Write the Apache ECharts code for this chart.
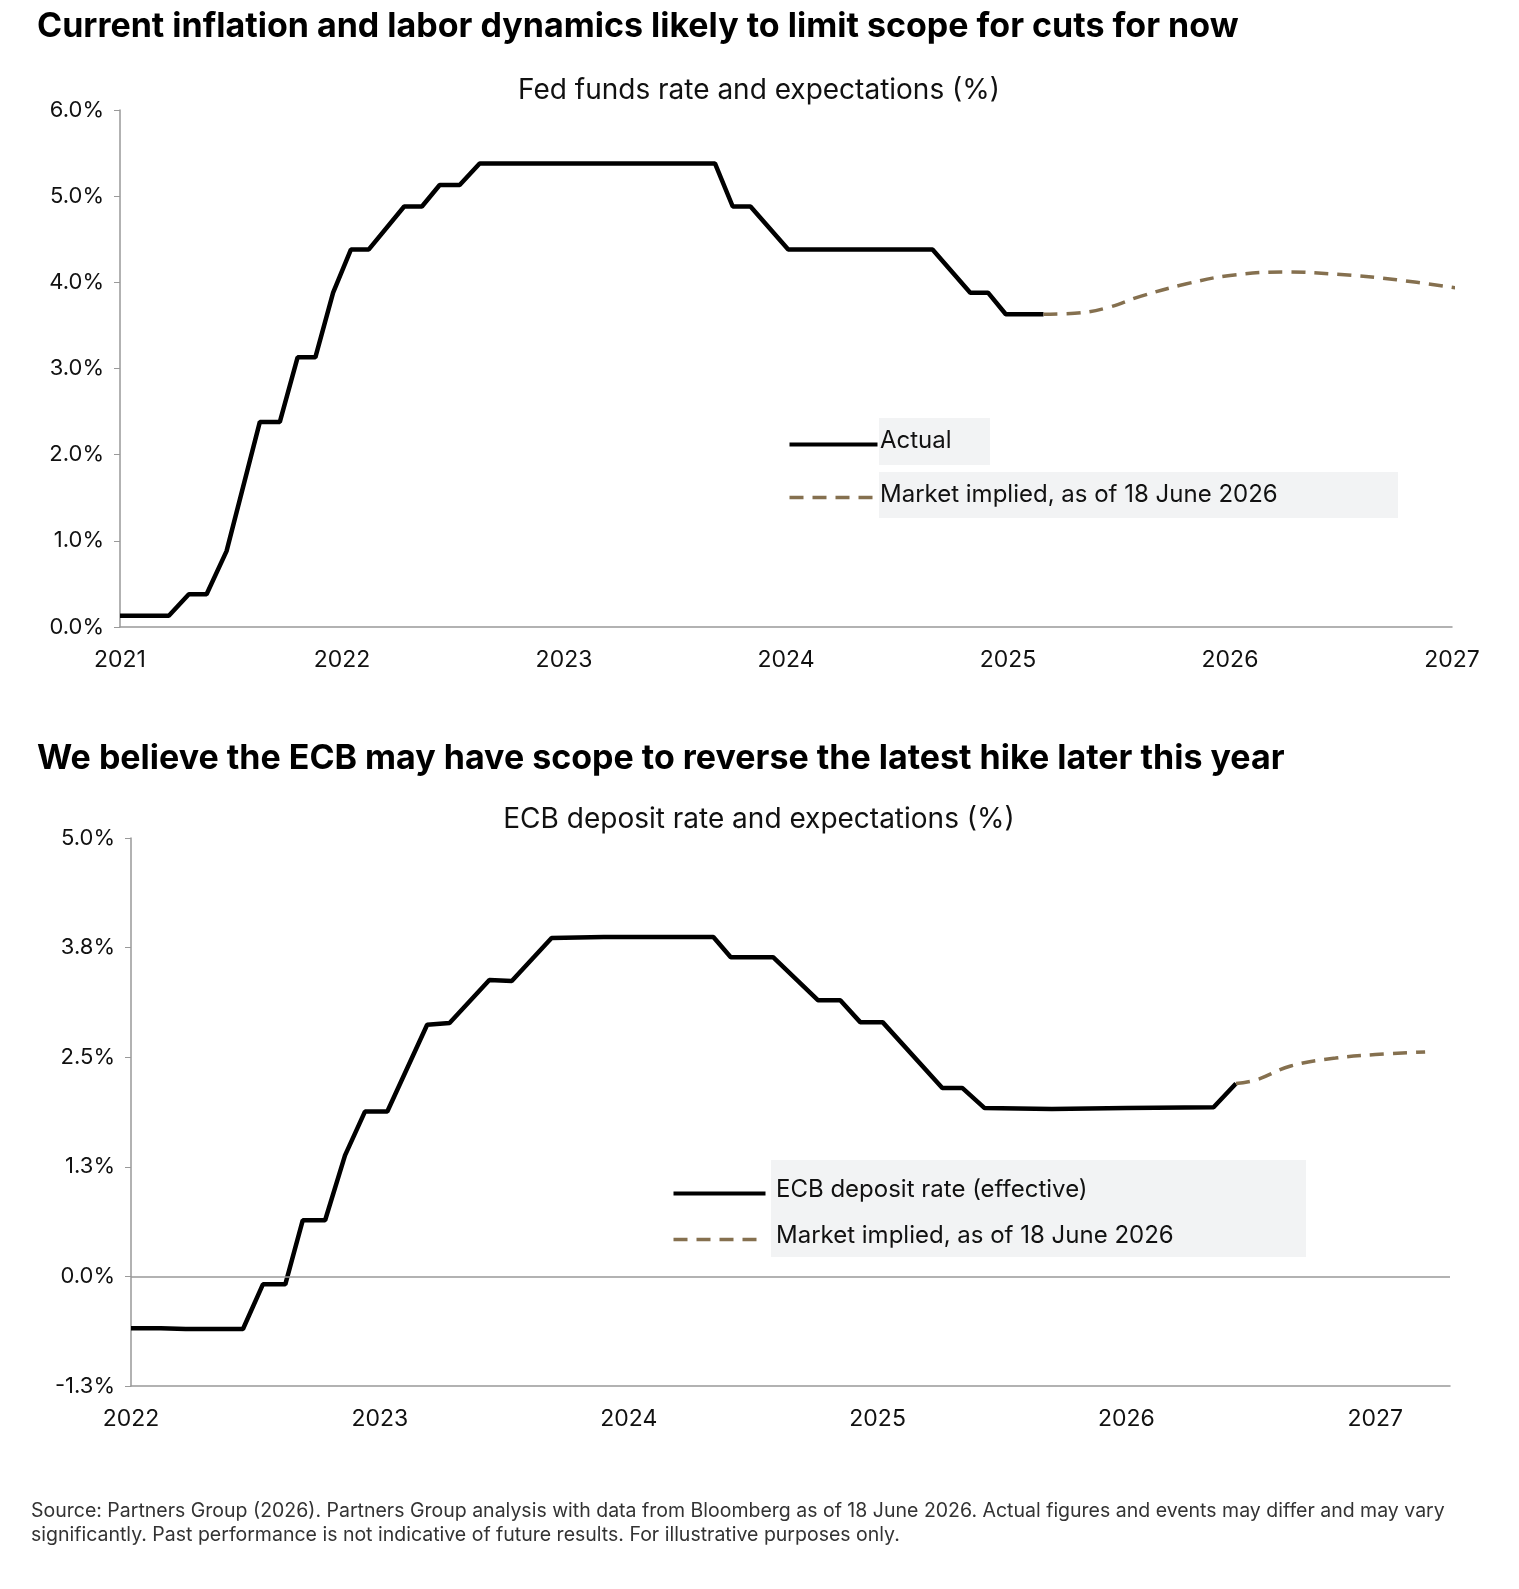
<!DOCTYPE html>
<html>
<head>
<meta charset="utf-8">
<script src="https://cdn.jsdelivr.net/npm/echarts@6/dist/echarts.min.js"></script>
<style>
html, body { margin: 0; padding: 0; background: #fff; overflow: hidden; }
#main { width: 1519px; height: 1589px; }
</style>
</head>
<body>
<div id="main"></div>
<script>
// Fed funds rate, [year, %]
var fedActual = [[2021.0,0.13],[2021.22,0.13],[2021.31,0.38],[2021.39,0.38],[2021.48,0.88],[2021.63,2.38],[2021.72,2.38],[2021.8,3.13],[2021.88,3.13],[2021.96,3.88],[2022.04,4.38],[2022.12,4.38],[2022.28,4.88],[2022.36,4.88],[2022.44,5.13],[2022.53,5.13],[2022.62,5.38],[2023.68,5.38],[2023.76,4.88],[2023.84,4.88],[2024.01,4.38],[2024.66,4.38],[2024.83,3.88],[2024.91,3.88],[2024.99,3.63],[2025.16,3.63]];
var fedMarket = [[2025.16,3.63],[2025.3,3.64],[2025.44,3.7],[2025.6,3.84],[2025.8,3.98],[2026.0,4.08],[2026.25,4.12],[2026.5,4.09],[2026.75,4.03],[2027.03,3.93]];
// ECB deposit rate, [year, %]
var ecbActual = [[2022.0,-0.59],[2022.12,-0.59],[2022.22,-0.6],[2022.45,-0.6],[2022.53,-0.09],[2022.62,-0.09],[2022.69,0.64],[2022.78,0.64],[2022.86,1.38],[2022.94,1.88],[2023.03,1.88],[2023.19,2.87],[2023.28,2.89],[2023.44,3.38],[2023.53,3.37],[2023.69,3.86],[2023.9,3.87],[2024.2,3.87],[2024.34,3.87],[2024.41,3.64],[2024.58,3.64],[2024.76,3.15],[2024.85,3.15],[2024.93,2.9],[2025.02,2.9],[2025.26,2.15],[2025.34,2.15],[2025.43,1.92],[2025.7,1.91],[2026.0,1.92],[2026.35,1.93],[2026.44,2.2]];
var ecbMarket = [[2026.44,2.2],[2026.52,2.24],[2026.66,2.4],[2026.84,2.49],[2027.0,2.53],[2027.2,2.56]];

var FONT = 'Inter, "Liberation Sans", sans-serif';
var BROWN = '#85704f';
var chart = echarts.init(document.getElementById('main'));

function axisX(idx, min, max) {
	return {
		type: 'value', gridIndex: idx, min: min, max: max, interval: 1,
		axisLine: { onZero: false, lineStyle: { color: '#999', width: 1.5 } },
		axisTick: { show: false },
		splitLine: { show: false },
		axisLabel: { color: '#111', fontSize: 23, fontFamily: FONT, margin: 22, showMaxLabel: max % 1 === 0,
			formatter: function (v) { return String(v); } }
	};
}
function axisY(idx, min, max, interval) {
	return {
		type: 'value', gridIndex: idx, min: min, max: max, interval: interval,
		axisLine: { show: true, lineStyle: { color: '#999', width: 1.5 } },
		axisTick: { show: true, length: 6, lineStyle: { color: '#999' } },
		splitLine: { show: false },
		axisLabel: { color: '#111', fontSize: 22, fontFamily: FONT, margin: 16,
			formatter: function (v) { return v.toFixed(1) + '%'; } }
	};
}
function legendLine(x, y, w, dashed) {
	return { type: 'line', left: x, top: y - 2, shape: { x1: 0, y1: 0, x2: w, y2: 0 },
		style: { stroke: dashed ? BROWN : '#000', lineWidth: dashed ? 3.5 : 4, lineDash: dashed ? [14, 9] : null } };
}

var option = {
	animation: false,
	title: [
		{ text: 'Current inflation and labor dynamics likely to limit scope for cuts for now', left: 32, top: 5,
		  textStyle: { fontSize: 34, fontWeight: 'bold', color: '#000', fontFamily: FONT } },
		{ text: 'Fed funds rate and expectations (%)', left: 754, textAlign: 'center', top: 72,
		  textStyle: { fontSize: 28, fontWeight: 'normal', color: '#111', fontFamily: FONT } },
		{ text: 'We believe the ECB may have scope to reverse the latest hike later this year', left: 32, top: 737,
		  textStyle: { fontSize: 34, fontWeight: 'bold', color: '#000', fontFamily: FONT } },
		{ text: 'ECB deposit rate and expectations (%)', left: 754, textAlign: 'center', top: 801,
		  textStyle: { fontSize: 28, fontWeight: 'normal', color: '#111', fontFamily: FONT } },
		{ text: 'Source: Partners Group (2026). Partners Group analysis with data from Bloomberg as of 18 June 2026. Actual figures and events may differ and may vary\nsignificantly. Past performance is not indicative of future results. For illustrative purposes only.',
		  left: 26, top: 1494,
		  textStyle: { fontSize: 19.5, fontWeight: 'normal', color: '#333', fontFamily: FONT, lineHeight: 24 } }
	],
	grid: [
		{ left: 120, right: 67, top: 110, height: 517 },
		{ left: 131, right: 69, top: 838, height: 548 }
	],
	xAxis: [axisX(0, 2021, 2027), axisX(1, 2022, 2027.3)],
	yAxis: [axisY(0, 0, 6, 1), axisY(1, -1.25, 5, 1.25)],
	series: [
		{ type: 'line', xAxisIndex: 0, yAxisIndex: 0, data: fedActual, showSymbol: false,
		  lineStyle: { color: '#000', width: 4.5 } },
		{ type: 'line', xAxisIndex: 0, yAxisIndex: 0, data: fedMarket, showSymbol: false, smooth: 0.4,
		  lineStyle: { color: BROWN, width: 3.5, type: [14, 9] } },
		{ type: 'line', xAxisIndex: 1, yAxisIndex: 1, data: ecbActual, showSymbol: false,
		  lineStyle: { color: '#000', width: 4.5 },
		  markLine: { silent: true, symbol: 'none', label: { show: false },
			lineStyle: { color: '#999', width: 1.5, type: 'solid' }, data: [{ yAxis: 0 }] } },
		{ type: 'line', xAxisIndex: 1, yAxisIndex: 1, data: ecbMarket, showSymbol: false, smooth: 0.4,
		  lineStyle: { color: BROWN, width: 3.5, type: [14, 9] } }
	],
	graphic: [
		{ type: 'rect', left: 879, top: 418, shape: { width: 111, height: 47 }, style: { fill: '#f2f3f4' } },
		{ type: 'rect', left: 879, top: 472, shape: { width: 519, height: 46 }, style: { fill: '#f2f3f4' } },
		{ type: 'rect', left: 771, top: 1160, shape: { width: 535, height: 97 }, style: { fill: '#f2f3f4' } },
		{ type: 'text', left: 880, top: 429, style: { text: 'Actual', fontSize: 24, fontFamily: FONT, fill: '#111' } },
		{ type: 'text', left: 880, top: 483, style: { text: 'Market implied, as of 18 June 2026', fontSize: 24, fontFamily: FONT, fill: '#111' } },
		{ type: 'text', left: 776, top: 1178, style: { text: 'ECB deposit rate (effective)', fontSize: 24, fontFamily: FONT, fill: '#111' } },
		{ type: 'text', left: 776, top: 1224, style: { text: 'Market implied, as of 18 June 2026', fontSize: 24, fontFamily: FONT, fill: '#111' } },
		legendLine(787, 444, 88, false), legendLine(787, 497, 88, true),
		legendLine(671, 1193, 92, false), legendLine(671, 1239, 92, true)
	]
};

chart.setOption(option);
window.onresize = function () { chart.resize(); };
</script>
</body>
</html>
